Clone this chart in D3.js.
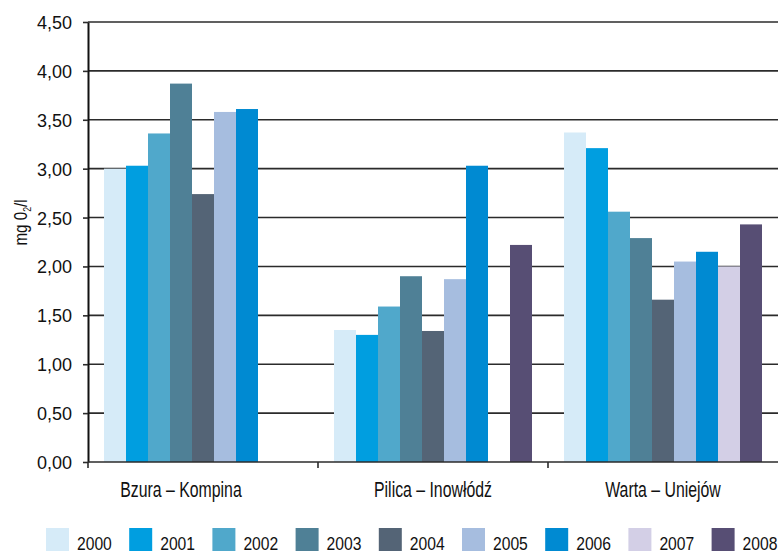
<!DOCTYPE html>
<html>
<head>
<meta charset="utf-8">
<script src="https://cdn.jsdelivr.net/npm/d3@7"></script>
<style>
  body { margin: 0; background: #fff; }
  text { font-family: "Liberation Sans", Arial, sans-serif; fill: #111; }
</style>
</head>
<body>
<div id="chart"></div>
<script>
// data
var stations = ["Bzura – Kompina", "Pilica – Inowłódź", "Warta – Uniejów"];
var years = ["2000", "2001", "2002", "2003", "2004", "2005", "2006", "2007", "2008"];
var bzura  = [3.00, 3.03, 3.36, 3.87, 2.74, 3.58, 3.61, null, null];
var pilica = [1.35, 1.30, 1.59, 1.90, 1.34, 1.87, 3.03, null, 2.22];
var warta  = [3.37, 3.21, 2.56, 2.29, 1.66, 2.05, 2.15, 2.00, 2.43];
var yTicks = [0, 0.5, 1, 1.5, 2, 2.5, 3, 3.5, 4, 4.5];
var colors = ["#d6ebf8", "#009ee0", "#50a8cb", "#4f8096", "#546476",
              "#a6bddf", "#008ad2", "#d3cfe6", "#574e74"];

var series = [bzura, pilica, warta];

var W = 778, H = 553;
var margin = {top: 22, right: 0, bottom: 91, left: 88},
    width = W - margin.left - margin.right,
    height = H - margin.top - margin.bottom;

var svg = d3.select("#chart")
    .append("svg")
    .attr("width", W)
    .attr("height", H)
  .append("g")
    .attr("transform", "translate(" + margin.left + "," + margin.top + ")");

var x0 = d3.scaleBand()
    .domain(stations)
    .range([0, width]);

var x1 = d3.scaleBand()
    .domain(years)
    .range([16, x0.bandwidth() - 16]);

var y = d3.scaleLinear()
    .domain([0, 4.5])
    .range([height, 0]);

var color = d3.scaleOrdinal().domain(years).range(colors);

var fmt = function (d) { return d3.format(".2f")(d).replace(".", ","); };

// grid lines
svg.append("g")
    .selectAll("line")
    .data(yTicks.slice(1))
    .enter()
    .append("line")
    .attr("x1", 0)
    .attr("x2", width)
    .attr("y1", function (d) { return y(d); })
    .attr("y2", function (d) { return y(d); })
    .attr("stroke", "#2b2b2b")
    .attr("stroke-width", 1.6);

// bars
var groups = svg.append("g")
    .selectAll("g")
    .data(stations)
    .enter()
    .append("g")
    .attr("transform", function (d) { return "translate(" + x0(d) + ",0)"; });

groups.selectAll("rect")
    .data(function (d, i) {
        return years.map(function (yr, j) { return {year: yr, value: series[i][j]}; })
            .filter(function (e) { return e.value != null; });
    })
    .enter()
    .append("rect")
    .attr("x", function (d) { return x1(d.year); })
    .attr("y", function (d) { return y(d.value); })
    .attr("width", x1.bandwidth())
    .attr("height", function (d) { return height - y(d.value); })
    .attr("fill", function (d) { return color(d.year); });

// y axis
var yAxis = svg.append("g")
    .call(d3.axisLeft(y).tickValues(yTicks).tickFormat(fmt).tickSize(5).tickSizeOuter(0));
yAxis.select(".domain").attr("stroke", "#111").attr("stroke-width", 2);
yAxis.selectAll(".tick line").attr("stroke", "#2b2b2b").attr("stroke-width", 1.6);
yAxis.selectAll(".tick text")
    .attr("x", -16)
    .attr("dy", "0.36em")
    .style("font-size", "18px")
    .style("font-family", "'Liberation Sans', sans-serif")
    .attr("fill", "#111");

// x axis
var xAxis = svg.append("g")
    .attr("transform", "translate(0," + height + ")");
xAxis.append("line")
    .attr("x1", 0).attr("x2", width)
    .attr("stroke", "#2b2b2b").attr("stroke-width", 1.6);
xAxis.selectAll(".xt")
    .data(stations)
    .enter()
    .append("line")
    .attr("class", "xt")
    .attr("x1", function (d) { return x0(d); })
    .attr("x2", function (d) { return x0(d); })
    .attr("y1", 0).attr("y2", 6)
    .attr("stroke", "#2b2b2b").attr("stroke-width", 1.6);

// category labels, centred on the bars that are present (condensed look)
xAxis.selectAll(".xl")
    .data(stations)
    .enter()
    .append("text")
    .attr("class", "xl")
    .attr("transform", function (d, i) {
        var present = years.filter(function (yr, j) { return series[i][j] != null; });
        var a = x1(present[0]), b = x1(present[present.length - 1]) + x1.bandwidth();
        return "translate(" + (x0(d) + (a + b) / 2) + ",35) scale(0.72,1)";
    })
    .attr("text-anchor", "middle")
    .style("font-size", "22px")
    .text(function (d) { return d; });

// y title
var yt = svg.append("text")
    .attr("transform", "translate(" + (-61) + "," + (y(2.45)) + ") rotate(-90) scale(0.8,1)")
    .attr("text-anchor", "middle")
    .style("font-size", "19px");
yt.append("tspan").text("mg 0");
yt.append("tspan").attr("dy", 4).style("font-size", "11px").text("2");
yt.append("tspan").attr("dy", -4).text("/l");

// legend
var legend = d3.select("svg").append("g")
    .attr("transform", "translate(46,528)");
var item = legend.selectAll("g")
    .data(years)
    .enter()
    .append("g")
    .attr("transform", function (d, i) { return "translate(" + (i * 83.2) + ",0)"; });
item.append("rect")
    .attr("width", 23)
    .attr("height", 23)
    .attr("fill", function (d) { return color(d); });
item.append("text")
    .attr("transform", "translate(31,22) scale(0.87,1)")
    .style("font-size", "18px")
    .text(function (d) { return d; });
</script>
</body>
</html>
